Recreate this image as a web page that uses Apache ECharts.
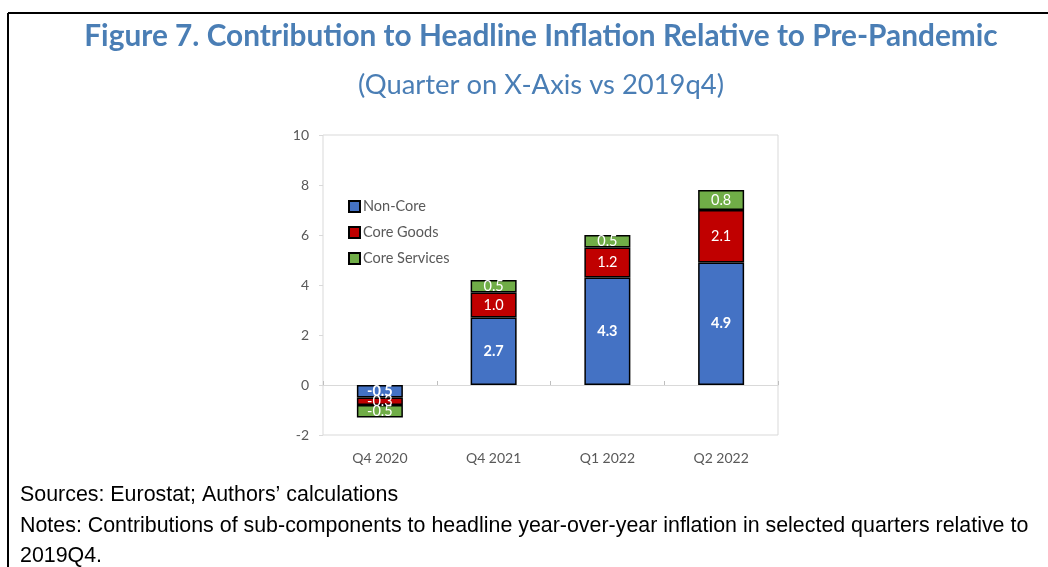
<!DOCTYPE html>
<html>
<head>
<meta charset="utf-8">
<script src="https://cdn.jsdelivr.net/npm/echarts@6/dist/echarts.min.js"></script>
<style>
  html, body { margin: 0; padding: 0; background: #ffffff; }
  #chart { width: 1048px; height: 567px; }
</style>
</head>
<body>
<div id="chart"></div>
<script>
// Quarters shown on the x-axis
var categories = ['Q4 2020', 'Q4 2021', 'Q1 2022', 'Q2 2022'];
// Contributions (pp) relative to 2019Q4
var nonCore = [-0.5, 2.7, 4.3, 4.9];
var coreGoods = [-0.3, 1.0, 1.2, 2.1];
var coreServices = [-0.5, 0.5, 0.5, 0.8];
var yTicks = { min: -2, max: 10, interval: 2 };

var chart = echarts.init(document.getElementById('chart'), null, { renderer: 'canvas' });

var axisGray = '#595959';
var lineGray = '#d9d9d9';
var titleBlue = '#4a7eb5';
var footFont = '21.4px "Liberation Sans", Arial, sans-serif';

function barSeries(name, data, color, bold) {
  return {
    name: name,
    type: 'bar',
    stack: 'total',
    xAxisIndex: 1,
    data: data,
    barWidth: 46,
    itemStyle: { color: color, borderColor: '#000000', borderWidth: 1.5 },
    label: {
      show: true,
      position: 'inside',
      color: '#ffffff',
      fontFamily: 'Lato',
      fontSize: 14.5,
      fontWeight: bold ? 'bold' : 'normal',
      formatter: function (p) { return p.value.toFixed(1); }
    }
  };
}

chart.setOption({
  animation: false,
  backgroundColor: '#ffffff',
  title: [
    {
      text: 'Figure 7. Contribution to Headline Inflation Relative to Pre-Pandemic',
      left: 536, top: 16, textAlign: 'center',
      textStyle: { color: titleBlue, fontFamily: 'Lato', fontWeight: 'bold', fontSize: 29.8 }
    },
    {
      text: '(Quarter on X-Axis vs 2019q4)',
      left: 536, top: 67, textAlign: 'center',
      textStyle: { color: titleBlue, fontFamily: 'Lato', fontWeight: 'normal', fontSize: 27.4 }
    }
  ],
  legend: {
    orient: 'vertical',
    left: 343, top: 194,
    itemWidth: 11, itemHeight: 11,
    itemGap: 11,
    icon: 'rect',
    textStyle: { color: axisGray, fontFamily: 'Lato', fontSize: 14.5, padding: [0, 0, 0, -2] },
    data: ['Non-Core', 'Core Goods', 'Core Services']
  },
  grid: {
    left: 323, top: 135, width: 455, height: 300,
    show: true, borderColor: lineGray, borderWidth: 1, backgroundColor: 'transparent'
  },
  xAxis: [
    {
      // zero line with category boundary ticks
      type: 'category', data: categories, position: 'bottom',
      axisLine: { show: true, onZero: true, lineStyle: { color: lineGray, width: 1 } },
      axisTick: { show: true, inside: true, length: 4, lineStyle: { color: '#bfbfbf' } },
      axisLabel: { show: false }
    },
    {
      // labels along the bottom of the plot
      type: 'category', data: categories, position: 'bottom',
      axisLine: { show: false, onZero: false },
      axisTick: { show: false },
      axisLabel: { color: axisGray, fontFamily: 'Lato', fontSize: 14, margin: 16 }
    }
  ],
  yAxis: {
    type: 'value', min: yTicks.min, max: yTicks.max, interval: yTicks.interval,
    axisLine: { show: false },
    axisTick: { show: true, length: 4, lineStyle: { color: lineGray } },
    axisLabel: { color: axisGray, fontFamily: 'Lato', fontSize: 14, margin: 14 },
    splitLine: { show: false }
  },
  series: [
    barSeries('Non-Core', nonCore, '#4472c4', true),
    barSeries('Core Goods', coreGoods, '#c00000', false),
    barSeries('Core Services', coreServices, '#70ad47', false)
  ],
  graphic: [
    // frame lines
    { type: 'line', shape: { x1: 8, y1: 13, x2: 1048, y2: 13 }, style: { stroke: '#000000', lineWidth: 2 } },
    { type: 'line', shape: { x1: 8, y1: 13, x2: 8, y2: 567 }, style: { stroke: '#000000', lineWidth: 2 } },
    // footer notes
    { type: 'text', left: 20, top: 485, style: { text: 'Sources: Eurostat; Authors\u2019 calculations', fill: '#000000', font: footFont } },
    { type: 'text', left: 20, top: 516, style: { text: 'Notes: Contributions of sub-components to headline year-over-year inflation in selected quarters relative to', fill: '#000000', font: footFont } },
    { type: 'text', left: 20, top: 546, style: { text: '2019Q4.', fill: '#000000', font: footFont } }
  ]
});
</script>
</body>
</html>
